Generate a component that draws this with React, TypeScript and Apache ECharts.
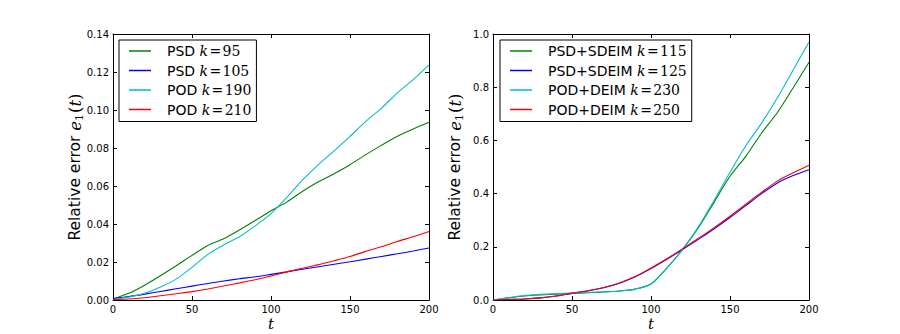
import React, { useEffect, useRef } from "react";
import * as echarts from "echarts";

const tValues = [0, 10, 20, 30, 40, 50, 60, 70, 80, 90, 100, 110, 120, 130, 140, 150, 160, 170, 180, 190, 200];

// Left panel
const leftPsd95 = [0.0005, 0.0035, 0.0078, 0.0128, 0.018, 0.0235, 0.0287, 0.0322, 0.0368, 0.0418, 0.047, 0.0515, 0.0572, 0.0622, 0.0665, 0.0712, 0.0765, 0.0815, 0.0862, 0.09, 0.0935];
const leftPsd105 = [0.0008, 0.0018, 0.0031, 0.0045, 0.0059, 0.0073, 0.0087, 0.01, 0.0112, 0.0122, 0.0135, 0.0148, 0.0162, 0.0175, 0.0188, 0.0201, 0.0215, 0.0229, 0.0243, 0.0258, 0.0274];
const leftPod190 = [0.0003, 0.0015, 0.0035, 0.0068, 0.011, 0.0172, 0.024, 0.029, 0.0333, 0.039, 0.0455, 0.054, 0.0632, 0.0713, 0.0785, 0.0861, 0.094, 0.101, 0.109, 0.116, 0.1238];
const leftPod210 = [0.0002, 0.0005, 0.0012, 0.0022, 0.0033, 0.0044, 0.0058, 0.0074, 0.009, 0.0107, 0.0126, 0.0148, 0.0167, 0.0186, 0.0207, 0.0229, 0.0256, 0.028, 0.0308, 0.0333, 0.0361];

// Right panel
const rightPsd115 = [0.0, 0.008, 0.015, 0.019, 0.022, 0.025, 0.027, 0.03, 0.034, 0.041, 0.06, 0.12, 0.19, 0.272, 0.368, 0.465, 0.54, 0.628, 0.705, 0.798, 0.894];
const rightPsd125 = [0.0, 0.002, 0.004, 0.008, 0.015, 0.025, 0.034, 0.046, 0.063, 0.087, 0.118, 0.153, 0.19, 0.228, 0.268, 0.31, 0.355, 0.4, 0.44, 0.468, 0.49];
const rightPod230 = [0.0, 0.009, 0.017, 0.021, 0.024, 0.026, 0.028, 0.031, 0.034, 0.041, 0.06, 0.12, 0.19, 0.275, 0.375, 0.48, 0.58, 0.665, 0.76, 0.865, 0.97];
const rightPod250 = [0.0, 0.002, 0.004, 0.008, 0.015, 0.026, 0.035, 0.047, 0.064, 0.088, 0.12, 0.155, 0.193, 0.232, 0.272, 0.315, 0.36, 0.405, 0.447, 0.478, 0.507];

const leftMethods = ["PSD", "PSD", "POD", "POD"];
const leftKs = [95, 105, 190, 210];
const rightMethods = ["PSD+SDEIM", "PSD+SDEIM", "POD+DEIM", "POD+DEIM"];
const rightKs = [115, 125, 230, 250];
const colors = ["#008000", "#0000ff", "#00bfbf", "#ff0000"];

const xTicks = [0, 50, 100, 150, 200];

const SANS = "DejaVu Sans";
const SERIF = "DejaVu Serif";

function pairs(vals: number[]) {
  return tValues.map((t, i) => [t, vals[i]]);
}

export default function App() {
  const ref = useRef<HTMLDivElement>(null);

  useEffect(() => {
    if (!ref.current) return;
    const chart = echarts.init(ref.current, null, { renderer: "svg" });

    const leftData = [leftPsd95, leftPsd105, leftPod190, leftPod210];
    const rightData = [rightPsd115, rightPsd125, rightPod230, rightPod250];
    const leftNames = leftMethods.map((m, i) => `${m} k=${leftKs[i]}`);
    const rightNames = rightMethods.map((m, i) => `${m} k=${rightKs[i]}`);

    const legendFormatter = (name: string) => {
      const idx = name.lastIndexOf(" k=");
      const m = name.slice(0, idx);
      const k = name.slice(idx + 3);
      return `{m|${m} }{k|k}{e|\u200A=\u200A${k}}`;
    };
    const legendRich = {
      m: { fontFamily: SANS, fontSize: 14, color: "#000", lineHeight: 16 },
      k: { fontFamily: SERIF, fontStyle: "italic", fontSize: 14, color: "#000", lineHeight: 16 },
      e: { fontFamily: SERIF, fontSize: 14, color: "#000", lineHeight: 16 },
    };

    const yName = "{a|Relative error }{i|e}{s|1}{b|(}{i|t}{b|)}";
    const yNameRich = {
      a: { fontFamily: SANS, fontSize: 15.5, color: "#000", lineHeight: 20 },
      i: { fontFamily: SERIF, fontStyle: "italic", fontSize: 16.5, color: "#000", lineHeight: 20 },
      b: { fontFamily: SERIF, fontSize: 16.5, color: "#000", lineHeight: 20 },
      s: { fontFamily: SERIF, fontSize: 11, color: "#000", verticalAlign: "bottom", padding: [6, 1, 0, 0], lineHeight: 20 },
    };

    const grids = [
      { left: 113, top: 34, width: 316, height: 266, outerBoundsMode: "none", containLabel: false },
      { left: 493, top: 34, width: 316, height: 266, outerBoundsMode: "none", containLabel: false },
    ];

    const tickLabel = { fontFamily: SANS, fontSize: 10, color: "#000" };

    const xAxes: any[] = [];
    const yAxes: any[] = [];
    [0, 1].forEach((g) => {
      xAxes.push({
        type: "value",
        gridIndex: g,
        min: 0,
        max: 200,
        interval: 50,
        position: "bottom",
        name: "t",
        nameLocation: "middle",
        nameGap: 16,
        nameMoveOverlap: false,
        nameTextStyle: { fontFamily: SERIF, fontStyle: "italic", fontSize: 15, lineHeight: 16, color: "#000" },
        axisLine: { lineStyle: { color: "#000", width: 1 } },
        axisTick: { inside: true, length: 4, lineStyle: { color: "#000" } },
        axisLabel: { ...tickLabel, margin: 4, formatter: (v: number) => (xTicks.includes(v) ? String(v) : "") },
        splitLine: { show: false },
      });
      xAxes.push({
        type: "value",
        gridIndex: g,
        min: 0,
        max: 200,
        interval: 50,
        position: "top",
        axisLine: { show: true, onZero: false, lineStyle: { color: "#000", width: 1 } },
        axisTick: { inside: true, length: 4, lineStyle: { color: "#000" } },
        axisLabel: { show: false },
        splitLine: { show: false },
      });
      const isLeft = g === 0;
      yAxes.push({
        type: "value",
        gridIndex: g,
        min: 0,
        max: isLeft ? 0.14 : 1.0,
        interval: isLeft ? 0.02 : 0.2,
        position: "left",
        name: yName,
        nameLocation: "middle",
        nameRotate: 90,
        nameGap: 28,
        nameMoveOverlap: false,
        nameTextStyle: { rich: yNameRich },
        axisLine: { show: true, lineStyle: { color: "#000", width: 1 } },
        axisTick: { show: true, inside: true, length: 4, lineStyle: { color: "#000" } },
        axisLabel: { ...tickLabel, margin: 4, formatter: (v: number) => v.toFixed(isLeft ? 2 : 1) },
        splitLine: { show: false },
      });
      yAxes.push({
        type: "value",
        gridIndex: g,
        min: 0,
        max: isLeft ? 0.14 : 1.0,
        interval: isLeft ? 0.02 : 0.2,
        position: "right",
        axisLine: { show: true, onZero: false, lineStyle: { color: "#000", width: 1 } },
        axisTick: { show: true, inside: true, length: 4, lineStyle: { color: "#000" } },
        axisLabel: { show: false },
        splitLine: { show: false },
      });
    });

    const series: any[] = [];
    leftData.forEach((d, i) => {
      series.push({
        type: "line",
        name: leftNames[i],
        xAxisIndex: 0,
        yAxisIndex: 0,
        data: pairs(d),
        symbol: "none",
        smooth: 0.2,
        lineStyle: { color: colors[i], width: 1.1 },
        itemStyle: { color: colors[i] },
      });
    });
    rightData.forEach((d, i) => {
      series.push({
        type: "line",
        name: rightNames[i],
        xAxisIndex: 2,
        yAxisIndex: 2,
        data: pairs(d),
        symbol: "none",
        smooth: 0.3,
        lineStyle: { color: colors[i], width: 1.1 },
        itemStyle: { color: colors[i] },
      });
    });

    const legendBase = {
      orient: "vertical",
      top: 40,
      itemWidth: 22,
      itemHeight: 16,
      itemGap: 5.5,
      icon: "path://M0,7.25L22,7.25L22,8.75L0,8.75Z",
      padding: [4, 5, 5, 10],
      borderColor: "#000",
      borderWidth: 1,
      borderRadius: 0,
      backgroundColor: "#fff",
      selectedMode: false,
      formatter: legendFormatter,
      textStyle: { rich: legendRich, padding: [0, 0, 0, 11] },
    };

    chart.setOption({
      animation: false,
      backgroundColor: "#fff",
      grid: grids,
      xAxis: xAxes,
      yAxis: yAxes,
      legend: [
        { ...legendBase, left: 119, data: leftNames },
        { ...legendBase, left: 500, data: rightNames },
      ],
      series,
    });

    return () => chart.dispose();
  }, []);

  return (
    <div
      ref={ref}
      style={{ position: "fixed", left: 0, top: 0, width: 900, height: 334, background: "#fff" }}
    />
  );
}
